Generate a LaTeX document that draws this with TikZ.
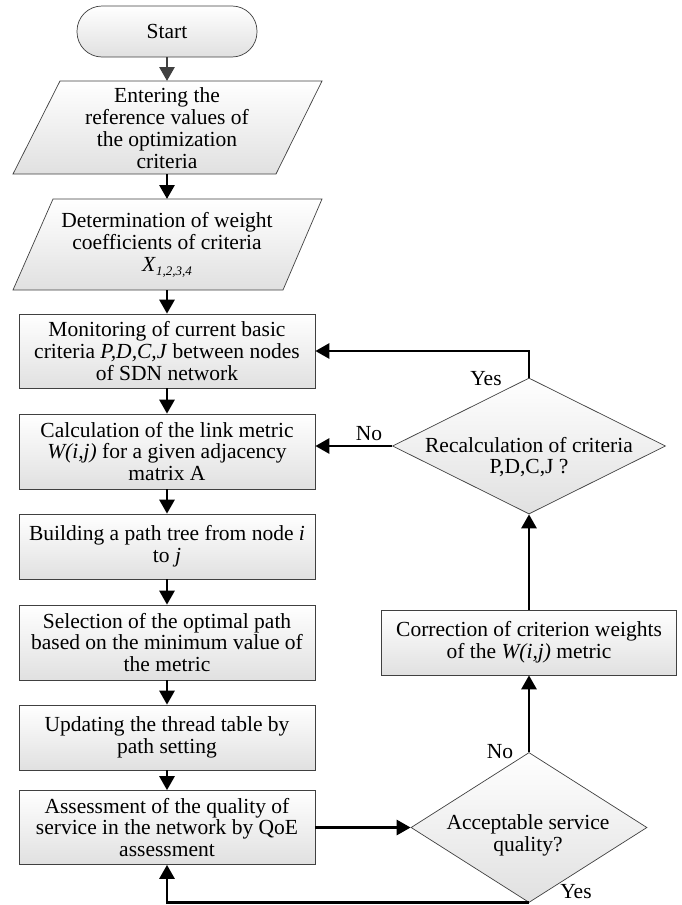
\documentclass[tikz,border=0pt]{standalone}
\usepackage{fontspec}
\setmainfont{Liberation Serif}
\usetikzlibrary{arrows.meta,shapes.geometric,calc}
\begin{document}
\begin{tikzpicture}[x=1pt,y=-1pt,
  font=\fontsize{21.5}{21.8}\selectfont,
  shadefill/.style={top color=white, bottom color=black!12},
  bord/.style={draw=black!75, line width=0.7pt},
  procbox/.style={bord, shadefill, rectangle, minimum width=296pt, inner sep=0pt, align=center},
  dia/.style={bord, shadefill, diamond, inner sep=0pt},
  txt/.style={align=center, inner sep=0pt},
  arr/.style={line width=2.8pt, -{Triangle[length=14pt,width=15pt]}},
  lbl/.style={inner sep=0pt}
]
\useasboundingbox (0,0) rectangle (682,905);

% start
\node[procbox, minimum width=180pt, minimum height=51pt, rounded corners=25pt] (start) at (167,31.5) {Start};

% parallelogram 1
\draw[bord, shadefill] (60,81) -- (322,81) -- (276,174) -- (13,174) -- cycle;
\coordinate (p1t) at (167,81);
\coordinate (p1b) at (167,174);
\node[txt] (p1) at (167,128) {Entering the\\reference values of\\the optimization\\criteria};

% parallelogram 2
\draw[bord, shadefill] (53,199) -- (322,199) -- (283,290) -- (13,290) -- cycle;
\coordinate (p2t) at (167,199);
\coordinate (p2b) at (167,290);
\node[txt] (p2) at (167,245) {Determination of weight\\coefficients of criteria\\\textit{X}\raisebox{-4pt}{\fontsize{13}{13}\selectfont\textit{1,2,3,4}}};

% left column boxes
\node[procbox, minimum height=74pt] (mon) at (167,351) {Monitoring of current basic\\criteria \textit{P,D,C,J} between nodes\\of SDN network};
\node[procbox, minimum height=75pt] (calc) at (167,451.5) {Calculation of the link metric\\\textit{W(i,j)} for a given adjacency\\matrix A};
\node[procbox, minimum height=65pt] (build) at (167,546.5) {Building a path tree from node \textit{i}\\to \textit{j}};
\node[procbox, minimum height=75pt] (sel) at (167,642.5) {Selection of the optimal path\\based on the minimum value of\\the metric};
\node[procbox, minimum height=65pt] (upd) at (167,737.5) {Updating the thread table by\\path setting};
\node[procbox, minimum height=74pt] (ass) at (167,827.5) {Assessment of the quality of\\service in the network by QoE\\assessment};

% right column
\node[dia, minimum width=273pt, minimum height=136pt] (recalc) at (529,446) {};
\node[txt] (recalct) at (529,457) {Recalculation of criteria\\P,D,C,J ?};
\node[procbox, minimum width=295pt, minimum height=65pt] (corr) at (529,642.5) {Correction of criterion weights\\of the \textit{W(i,j)} metric};
\node[dia, minimum width=236pt, minimum height=150pt] (accept) at (529,827.5) {};
\node[txt] (acceptt) at (528,835) {Acceptable service\\quality?};

% connectors
\draw[arr, black!75] (start) -- (p1t);
\draw[arr] (p1b) -- (p2t);
\draw[arr] (p2b) -- (mon);
\draw[arr] (mon) -- (calc);
\draw[arr] (calc) -- (build);
\draw[arr] (build) -- (sel);
\draw[arr] (sel) -- (upd);
\draw[arr] (upd) -- (ass);
\draw[arr] (ass.east) -- (accept.west);
\draw[arr] (accept.north) -- (corr.south);
\draw[arr] (corr.north) -- (recalc.south);
\draw[arr] (recalc.north) |- (mon.east);
\draw[arr] (recalc.west) -- (recalc.west -| calc.east);
\draw[arr] (accept.south) -| (ass.south);

% labels
\node[lbl] (yes1) at (486,379) {Yes};
\node[lbl] (no1) at (369,434) {No};
\node[lbl] (no2) at (500,752) {No};
\node[lbl] (yes2) at (576,892) {Yes};
\end{tikzpicture}
\end{document}
